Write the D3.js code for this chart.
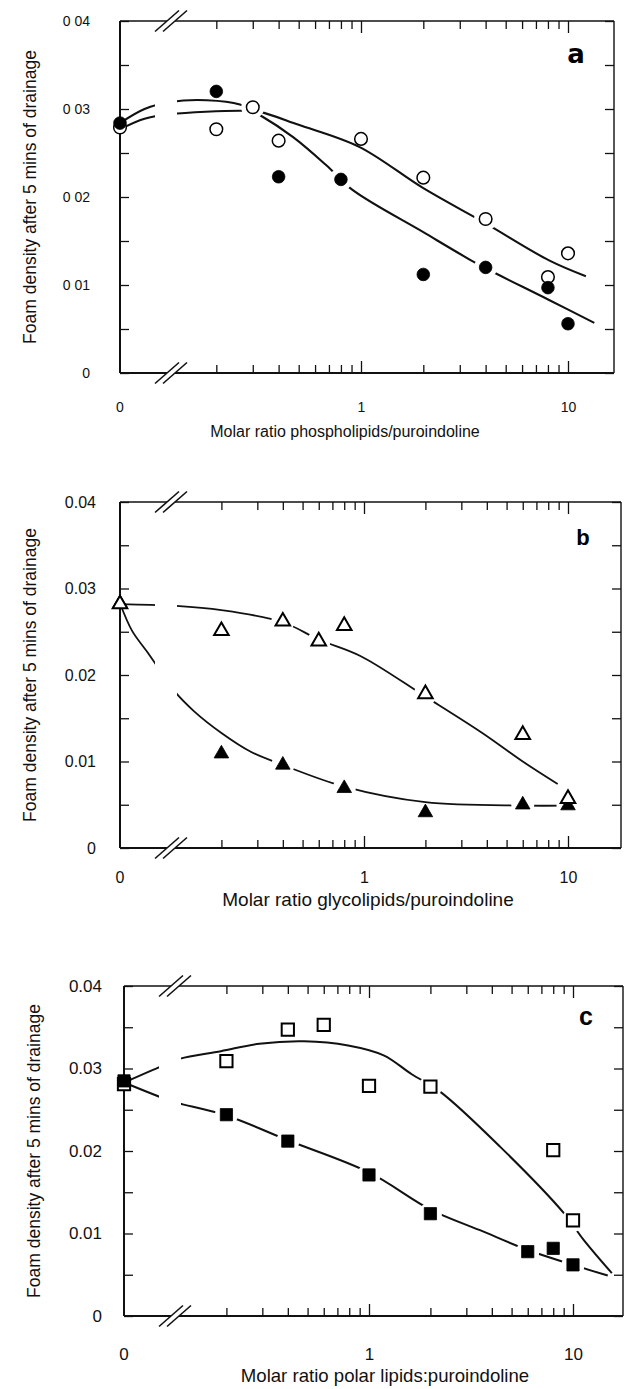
<!DOCTYPE html>
<html>
<head>
<meta charset="utf-8">
<script src="https://cdn.jsdelivr.net/npm/d3@7"></script>
<style>
body { margin: 0; background: #fff; }
svg { display: block; font-family: "Liberation Sans", Arial, sans-serif; }
</style>
</head>
<body>
<script>

// ---- data ----

// a: phospholipids
var phosOpenX   = [0, 0.2, 0.3, 0.4, 1, 2, 4, 8, 10];
var phosOpenY   = [0.0279, 0.0277, 0.0302, 0.0264, 0.0266, 0.0222, 0.0175, 0.0109, 0.0136];
var phosFilledX = [0, 0.2, 0.4, 0.8, 2, 4, 8, 10];
var phosFilledY = [0.0284, 0.0320, 0.0223, 0.0220, 0.0112, 0.0120, 0.0097, 0.0056];
// fitted curves as drawn in the figure
var phosOpenFitX   = [0, 0.09, 0.12, 0.26, 0.32, 0.5, 0.98, 2.0, 4.0, 8.1, 12.2];
var phosOpenFitY   = [0.0277, 0.0289, 0.0294, 0.0298, 0.0297, 0.0282, 0.0257, 0.0210, 0.0170, 0.0128, 0.0110];
var phosFilledFitX = [0, 0.09, 0.12, 0.18, 0.26, 0.32, 0.47, 0.68, 0.91, 2.0, 3.4, 4.0, 8.1, 13.4];
var phosFilledFitY = [0.0284, 0.0300, 0.0308, 0.0310, 0.0305, 0.0294, 0.0268, 0.0236, 0.0208, 0.0160, 0.0128, 0.0119, 0.0083, 0.0057];

// b: glycolipids
var glycoOpenX   = [0, 0.2, 0.4, 0.6, 0.8, 2, 6, 10];
var glycoOpenY   = [0.0282, 0.0251, 0.0262, 0.0239, 0.0257, 0.0178, 0.0131, 0.0057];
var glycoFilledX = [0, 0.2, 0.4, 0.8, 2, 6, 10];
var glycoFilledY = [0.0283, 0.0109, 0.0096, 0.0069, 0.0041, 0.0050, 0.0049];
var glycoOpenFitX   = [0, 0.09, 0.12, 0.2, 0.4, 0.6, 0.96, 2.0, 3.8, 6.0, 8.9];
var glycoOpenFitY   = [0.0282, 0.0281, 0.0280, 0.0275, 0.0261, 0.0241, 0.0222, 0.0175, 0.0133, 0.0100, 0.0074];
var glycoFilledFitX = [0, 0.073, 0.087, 0.105, 0.118, 0.147, 0.2, 0.28, 0.4, 0.8, 2, 6, 10];
var glycoFilledFitY = [0.0283, 0.0251, 0.0226, 0.0198, 0.0181, 0.0158, 0.0133, 0.0111, 0.0096, 0.0071, 0.0053, 0.0049, 0.0049];

// c: polar lipids
var polarOpenX   = [0, 0.2, 0.4, 0.6, 1, 2, 8, 10];
var polarOpenY   = [0.0281, 0.0309, 0.0347, 0.0353, 0.0279, 0.0278, 0.0201, 0.0116];
var polarFilledX = [0, 0.2, 0.4, 1, 2, 6, 8, 10];
var polarFilledY = [0.0285, 0.0244, 0.0212, 0.0171, 0.0124, 0.0078, 0.0082, 0.0062];
var polarOpenFitX   = [0, 0.103, 0.119, 0.188, 0.29, 0.48, 0.79, 1.18, 1.62, 2.23, 4.4, 9.0, 11.3, 15.5];
var polarOpenFitY   = [0.0283, 0.0306, 0.0312, 0.0321, 0.0330, 0.0333, 0.0328, 0.0316, 0.0293, 0.0272, 0.0205, 0.0125, 0.0092, 0.0052];
var polarFilledFitX = [0, 0.103, 0.116, 0.2, 0.4, 1, 2, 3.5, 6, 10, 14.8];
var polarFilledFitY = [0.0283, 0.0262, 0.0258, 0.0243, 0.0213, 0.0174, 0.0129, 0.0104, 0.0080, 0.0062, 0.0049];

// ticks
var xMinorTicks = [0.2, 0.3, 0.4, 0.5, 0.6, 0.7, 0.8, 0.9, 2, 3, 4, 5, 6, 7, 8, 9];
var xMajorTicks = [1, 10];
var yLabelTicks = [0, 0.01, 0.02, 0.03, 0.04];
var yMinorTicks = [0.005, 0.015, 0.025, 0.035];
var yTickTextA  = ["0", "0 01", "0 02", "0 03", "0 04"];   // decimal point lost in the print
var yTickTextBC = ["0", "0.01", "0.02", "0.03", "0.04"];

var yTitle = "Foam density after 5 mins of drainage";


var svg = d3.select("body").append("svg")
    .attr("width", 626)
    .attr("height", 1389);

var panels = [
  { letter: "a", left: 120, right: 614, top: 21, bottom: 373, x1: 361, x10: 568,
    tickFont: 14, yPad: 30, xPad: 29, lineW: 2.1,
    yLabels: yTickTextA, ytX: 30, title: "Molar ratio phospholipids/puroindoline",
    titleX: 345, titleY: 437, titleFont: 16, letterX: 576, letterY: 56,
    letterFont: "bold 26px 'DejaVu Sans', sans-serif", letterDy: "0.27em",
    series: [
      { x: phosOpenX, y: phosOpenY, fx: phosOpenFitX, fy: phosOpenFitY, shape: "circle", filled: false },
      { x: phosFilledX, y: phosFilledY, fx: phosFilledFitX, fy: phosFilledFitY, shape: "circle", filled: true }
    ] },
  { letter: "b", left: 120, right: 621, top: 502, bottom: 848, x1: 364, x10: 568,
    tickFont: 16, yPad: 24, xPad: 24, lineW: 1.8,
    yLabels: yTickTextBC, ytX: 30, title: "Molar ratio glycolipids/puroindoline",
    titleX: 368, titleY: 906, titleFont: 19, letterX: 583, letterY: 537,
    letterFont: "bold 22px 'Liberation Sans', Arial, sans-serif", letterDy: "0.36em",
    series: [
      { x: glycoFilledX, y: glycoFilledY, fx: glycoFilledFitX, fy: glycoFilledFitY, shape: "triangle", filled: true },
      { x: glycoOpenX, y: glycoOpenY, fx: glycoOpenFitX, fy: glycoOpenFitY, shape: "triangle", filled: false }
    ] },
  { letter: "c", left: 124, right: 623, top: 986, bottom: 1316, x1: 369, x10: 573,
    tickFont: 17, yPad: 22, xPad: 32, lineW: 2,
    yLabels: yTickTextBC, ytX: 34, title: "Molar ratio polar lipids:puroindoline",
    titleX: 385, titleY: 1382, titleFont: 18.6, letterX: 586, letterY: 1018,
    letterFont: "bold 25px 'Liberation Sans', Arial, sans-serif", letterDy: "0.27em",
    series: [
      { x: polarOpenX, y: polarOpenY, fx: polarOpenFitX, fy: polarOpenFitY, shape: "square", filled: false },
      { x: polarFilledX, y: polarFilledY, fx: polarFilledFitX, fy: polarFilledFitY, shape: "square", filled: true }
    ] }
];

panels.forEach(drawPanel);

function distToPath(node, px, py) {
  var L = node.getTotalLength(), best = Infinity;
  for (var s = 0; s <= L; s += 1.5) {
    var pt = node.getPointAtLength(s);
    var d = Math.hypot(pt.x - px, pt.y - py);
    if (d < best) best = d;
  }
  return best;
}

function drawPanel(p) {
  var g = svg.append("g");

  var x = d3.scaleLog().domain([1, 10]).range([p.x1, p.x10]);
  var xs = function(v) { return v === 0 ? p.left : x(v); };   // "0" sits on the left axis
  var y = d3.scaleLinear().domain([0, 0.04]).range([p.bottom, p.top]);

  var line = d3.line()
      .x(function(d) { return xs(d[0]); })
      .y(function(d) { return y(d[1]); })
      .curve(d3.curveCatmullRom.alpha(0.5));

  // fitted curves
  var paths = p.series.map(function(s) {
    return g.append("path")
        .datum(d3.zip(s.fx, s.fy))
        .attr("d", line)
        .attr("fill", "none")
        .attr("stroke", "#111")
        .attr("stroke-width", p.lineW)
        .node();
  });

  // curves are interrupted where they run through their own points
  p.series.forEach(function(s, k) {
    d3.zip(s.x, s.y).forEach(function(d) {
      if (d[0] === 0) return;
      var px = xs(d[0]), py = y(d[1]);
      if (distToPath(paths[k], px, py) < 6) {
        g.append("circle").attr("cx", px).attr("cy", py).attr("r", 11.5).attr("fill", "#fff");
      }
    });
  });

  // ... and at the axis break
  var bx = p.left + 46;
  g.append("rect")
      .attr("x", bx - 11).attr("width", 22)
      .attr("y", p.top + 1).attr("height", p.bottom - p.top - 2)
      .attr("fill", "#fff");

  // ticks
  function ticks(axis, tx, ty) {
    var a = g.append("g").attr("transform", "translate(" + tx + "," + ty + ")").call(axis);
    a.select(".domain").remove();
    a.selectAll("line").attr("stroke", "#111").attr("stroke-width", 1.3);
    a.selectAll("text").attr("fill", "#111")
        .attr("font-family", "'Liberation Sans', Arial, sans-serif")
        .attr("font-size", p.tickFont);
    return a;
  }

  ticks(d3.axisBottom(x).tickValues(xMinorTicks).tickSize(-8).tickFormat(""), 0, p.bottom);
  ticks(d3.axisBottom(x).tickValues(xMajorTicks).tickSize(-12).tickPadding(p.xPad)
      .tickFormat(d3.format("d")), 0, p.bottom);
  ticks(d3.axisTop(x).tickValues(xMinorTicks).tickSize(-8).tickFormat(""), 0, p.top);
  ticks(d3.axisTop(x).tickValues(xMajorTicks).tickSize(-12).tickFormat(""), 0, p.top);

  ticks(d3.axisLeft(y).tickValues(yLabelTicks).tickSize(-9).tickPadding(p.yPad)
      .tickFormat(function(d, i) { return p.yLabels[i]; }), p.left, 0);
  ticks(d3.axisLeft(y).tickValues(yMinorTicks).tickSize(-9).tickFormat(""), p.left, 0);
  ticks(d3.axisRight(y).tickValues(yLabelTicks.concat(yMinorTicks)).tickSize(-9).tickFormat(""), p.right, 0);

  // the "0" category on the x axis
  g.append("text")
      .attr("x", xs(0))
      .attr("y", p.bottom + p.xPad)
      .attr("dy", "0.71em")
      .attr("text-anchor", "middle")
      .attr("font-size", p.tickFont)
      .attr("fill", "#111")
      .text("0");

  // frame with broken x axis
  var sx = p.left + 51;
  var frame = g.append("g").attr("stroke", "#111").attr("fill", "none");
  frame.append("line").attr("x1", p.left).attr("x2", p.left).attr("y1", p.top).attr("y2", p.bottom).attr("stroke-width", 2);
  frame.append("line").attr("x1", p.right).attr("x2", p.right).attr("y1", p.top).attr("y2", p.bottom).attr("stroke-width", 1.4);
  [[p.top, 1.4], [p.bottom, 2]].forEach(function(e) {
    frame.append("line").attr("x1", p.left).attr("x2", sx - 4).attr("y1", e[0]).attr("y2", e[0]).attr("stroke-width", e[1]);
    frame.append("line").attr("x1", sx + 4).attr("x2", p.right).attr("y1", e[0]).attr("y2", e[0]).attr("stroke-width", e[1]);
    [-4, 4].forEach(function(o) {
      frame.append("line")
          .attr("x1", sx + o - 12).attr("y1", e[0] + 10.5)
          .attr("x2", sx + o + 12).attr("y2", e[0] - 10.5)
          .attr("stroke-width", 1.6);
    });
  });

  // markers
  var symbols = { circle: [d3.symbolCircle, 125], triangle: [d3.symbolTriangle, 92], square: [d3.symbolSquare, 150] };
  p.series.forEach(function(s) {
    var sym = d3.symbol(symbols[s.shape][0], symbols[s.shape][1]);
    g.append("g").selectAll("path")
        .data(d3.zip(s.x, s.y))
      .join("path")
        .attr("transform", function(d) { return "translate(" + xs(d[0]) + "," + y(d[1]) + ")"; })
        .attr("d", sym)
        .attr("fill", s.filled ? "#000" : "#fff")
        .attr("stroke", "#000")
        .attr("stroke-width", s.filled ? 0.8 : (s.shape === "circle" ? 1.5 : 2));
  });

  // axis titles and panel letter
  g.append("text")
      .attr("transform", "translate(" + p.ytX + "," + ((p.top + p.bottom) / 2) + ") rotate(-90)")
      .attr("dy", "0.35em")
      .attr("text-anchor", "middle")
      .attr("font-size", 17.5)
      .attr("fill", "#111")
      .text(yTitle);

  g.append("text")
      .attr("x", p.titleX)
      .attr("y", p.titleY)
      .attr("text-anchor", "middle")
      .attr("font-size", p.titleFont)
      .attr("fill", "#111")
      .text(p.title);

  g.append("text")
      .attr("x", p.letterX)
      .attr("y", p.letterY)
      .attr("dy", p.letterDy)
      .attr("text-anchor", "middle")
      .style("font", p.letterFont)
      .attr("fill", "#000")
      .text(p.letter);
}

</script>
</body>
</html>
